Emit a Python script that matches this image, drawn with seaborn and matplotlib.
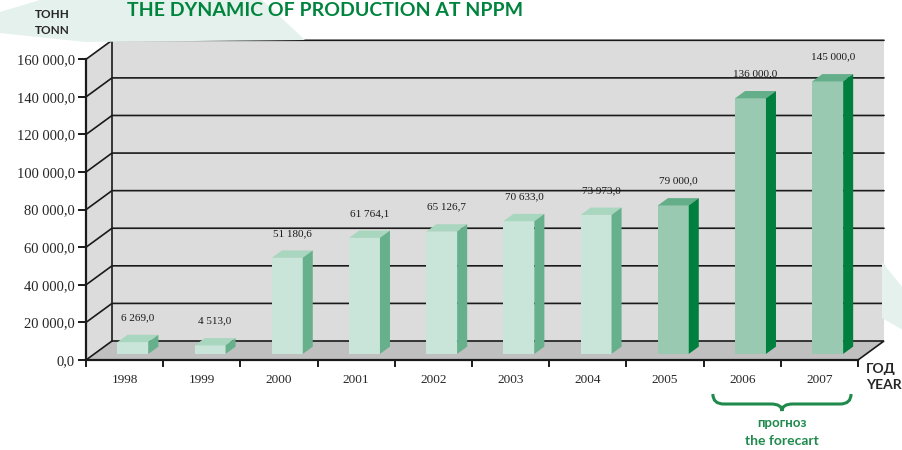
import numpy as np
import pandas as pd
import seaborn as sns
import matplotlib.pyplot as plt
from matplotlib.patches import Polygon, PathPatch
from matplotlib.path import Path

years = ["1998", "1999", "2000", "2001", "2002", "2003", "2004", "2005", "2006", "2007"]
values = [6269.0, 4513.0, 51180.6, 61764.1, 65126.7, 70633.0, 73973.0, 79000.0, 136000.0, 145000.0]
value_labels = ["6 269,0", "4 513,0", "51 180,6", "61 764,1", "65 126,7",
                "70 633,0", "73 973,0", "79 000,0", "136 000,0", "145 000,0"]
y_ticks = [0, 20000, 40000, 60000, 80000, 100000, 120000, 140000, 160000]
y_tick_labels = ["0,0", "20 000,0", "40 000,0", "60 000,0", "80 000,0",
                 "100 000,0", "120 000,0", "140 000,0", "160 000,0"]
forecast_years = ["2006", "2007"]

light = {"front": "#c9e4d8", "top": "#a9d6bf", "side": "#66b08b"}
dark = {"front": "#99c9b1", "top": "#64ae89", "side": "#007f3e"}
styles = [light] * 7 + [dark] * 3

sns.set_style("white")
plt.rcParams["font.family"] = ["Liberation Serif", "DejaVu Serif"]

W, H = 903, 450
fig = plt.figure(figsize=(W / 100, H / 100), dpi=100)


def fx(x, y):
    return (x / W, 1 - y / H)


# pale background decorations
for pts in ([(0, 33), (0, 12), (40, 0), (262, 0), (305, 40), (86, 42)],
            [(882, 262), (903, 288), (903, 330), (882, 318)]):
    fig.patches.append(Polygon([fx(*p) for p in pts], closed=True, transform=fig.transFigure,
                               facecolor="#e4f1ec", edgecolor="none", zorder=0))

# front plane of the 3D box
left, right, bottom, top = 86, 858, 360, 59.3
ax = fig.add_axes([left / W, 1 - bottom / H, (right - left) / W, (bottom - top) / H])
ax.set_facecolor("none")
ax.set_xlim(-0.5, 9.5)
ax.set_ylim(0, 160000)

px_x = (right - left) / 10.0
px_y = (bottom - top) / 160000.0
depth_dx = 26 / px_x
depth_dy = 19 / px_y

# walls and floor
x0, x1 = -0.5, 9.5
back = Polygon([(x0 + depth_dx, depth_dy), (x1 + depth_dx, depth_dy),
                (x1 + depth_dx, 160000 + depth_dy), (x0 + depth_dx, 160000 + depth_dy)],
               facecolor="#dcdcdc", edgecolor="none", clip_on=False, zorder=0.5)
side = Polygon([(x0, 0), (x0 + depth_dx, depth_dy), (x0 + depth_dx, 160000 + depth_dy), (x0, 160000)],
               facecolor="#dcdcdc", edgecolor="none", clip_on=False, zorder=0.5)
floor = Polygon([(x0, 0), (x1, 0), (x1 + depth_dx, depth_dy), (x0 + depth_dx, depth_dy)],
                facecolor="#c0c0c0", edgecolor="#1a1a1a", lw=1.2, clip_on=False, zorder=0.6)
for p in (back, side, floor):
    ax.add_patch(p)
for v in y_ticks[1:]:
    ax.plot([x0, x0 + depth_dx, x1 + depth_dx], [v, v + depth_dy, v + depth_dy],
            color="#1a1a1a", lw=1.2, clip_on=False, zorder=0.7)
ax.plot([x0 + depth_dx] * 2, [depth_dy, 160000 + depth_dy], color="#1a1a1a", lw=1.2,
        clip_on=False, zorder=0.7)

# bars
df = pd.DataFrame({"year": years, "value": values})
sns.barplot(data=df, x="year", y="value", hue="year", palette=[s["front"] for s in styles],
            width=0.4, saturation=1, legend=False, ax=ax, zorder=2)

f_lo = 0.32
bar_ddx = depth_dx * 0.385
bar_ddy = depth_dy * 0.385
for patch, s, val, lab in zip(ax.patches[3:], styles, values, value_labels):
    patch.set_x(patch.get_x() + f_lo * depth_dx)
    patch.set_y(f_lo * depth_dy)
    patch.set_edgecolor("none")
    patch.set_clip_on(False)
    bx0 = patch.get_x()
    bx1 = bx0 + patch.get_width()
    b0 = patch.get_y()
    bt = b0 + val
    ax.add_patch(Polygon([(bx0, bt), (bx1, bt), (bx1 + bar_ddx, bt + bar_ddy), (bx0 + bar_ddx, bt + bar_ddy)],
                         facecolor=s["top"], edgecolor="none", clip_on=False, zorder=2))
    ax.add_patch(Polygon([(bx1, b0), (bx1 + bar_ddx, b0 + bar_ddy), (bx1 + bar_ddx, bt + bar_ddy), (bx1, bt)],
                         facecolor=s["side"], edgecolor="none", clip_on=False, zorder=2))
    ax.text((bx0 + bx1) / 2 + bar_ddx / 2, bt + bar_ddy + 17 / px_y, lab,
            ha="center", va="center", fontsize=8, color="#1a1a1a", zorder=3)

# axes styling
for sp in ("top", "right"):
    ax.spines[sp].set_visible(False)
for sp in ("left", "bottom"):
    ax.spines[sp].set_color("#1a1a1a")
    ax.spines[sp].set_linewidth(1.6)
    ax.spines[sp].set_zorder(3)
ax.set_yticks(y_ticks)
ax.set_yticklabels(y_tick_labels, fontsize=10.5)
ax.set_xticks(range(len(years)))
ax.set_xticklabels(years, fontsize=9.5)
ax.set_xticks(np.arange(-0.5, 10, 1.0), minor=True)
ax.tick_params(axis="y", length=6, width=1.4, color="#1a1a1a", pad=2, direction="out", left=True)
ax.tick_params(axis="x", which="major", length=0, pad=10)
ax.tick_params(axis="x", which="minor", length=5, width=1.4, color="#1a1a1a", direction="out", bottom=True)
ax.set_xlabel("")
ax.set_ylabel("")

# titles and annotations
sans = ["Lato", "DejaVu Sans"]
fig.text(*fx(127, 11), "THE DYNAMIC OF PRODUCTION AT NPPM", family=sans, weight="bold",
         fontsize=14, color="#00843d", va="center", ha="left")
fig.text(*fx(35, 15), "ТОНН", family=sans, weight="bold", fontsize=8.5, va="center", ha="left")
fig.text(*fx(35, 31), "TONN", family=sans, weight="bold", fontsize=8.5, va="center", ha="left")
fig.text(*fx(866, 369), "ГОД", family=sans, weight="bold", fontsize=10, va="center", ha="left")
fig.text(*fx(866, 385), "YEAR", family=sans, weight="bold", fontsize=10, va="center", ha="left")

i0, i1 = years.index(forecast_years[0]), years.index(forecast_years[-1])
b_left = left + (i0 + 0.12) * px_x
b_right = left + (i1 + 1 - 0.09) * px_x
b_mid = (b_left + b_right) / 2
brace = [(b_left, 394), (b_left, 404), (b_left + 11, 404), (b_mid - 11, 404), (b_mid, 404), (b_mid, 411),
         (b_mid, 404), (b_mid + 11, 404), (b_right - 11, 404), (b_right, 404), (b_right, 394)]
codes = [Path.MOVETO, Path.CURVE3, Path.CURVE3, Path.LINETO, Path.CURVE3, Path.CURVE3,
         Path.CURVE3, Path.CURVE3, Path.LINETO, Path.CURVE3, Path.CURVE3]
fig.patches.append(PathPatch(Path([fx(*p) for p in brace], codes), transform=fig.transFigure,
                             facecolor="none", edgecolor="#1f8a4c", lw=2.2))
fig.text(*fx(b_mid, 423), "прогноз", family=sans, weight="bold", fontsize=9.5, color="#1f8a4c",
         ha="center", va="center")
fig.text(*fx(b_mid, 441), "the forecart", family=sans, weight="bold", fontsize=10, color="#1f8a4c",
         ha="center", va="center")

fig.savefig("out.png", dpi=100, facecolor="white")
